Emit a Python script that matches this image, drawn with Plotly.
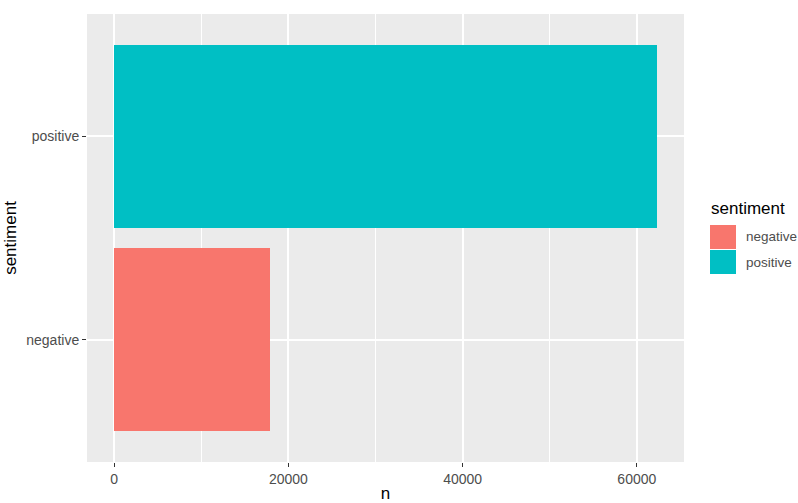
import plotly.graph_objects as go

categories = ["negative", "positive"]
counts = [17900, 62300]
colors = ["#F8766D", "#00BFC4"]
x_ticks = [0, 20000, 40000, 60000]

W, H = 798, 503
L, R, T, B = 87, 114, 14, 41
pw, ph = W - L - R, H - T - B

def px(x):
    return (x - L) / pw

def py(y):
    return (H - B - y) / ph

fig = go.Figure()
for cat, val, col in zip(categories, counts, colors):
    fig.add_trace(go.Bar(
        y=[cat], x=[val], orientation="h", marker=dict(color=col, line=dict(width=0)),
        width=0.9, name=cat, showlegend=False,
    ))

xmax = max(counts)
pad = 0.05 * xmax

fig.update_layout(
    width=W, height=H,
    margin=dict(l=L, r=R, t=T, b=B, pad=0),
    paper_bgcolor="white", plot_bgcolor="#EBEBEB",
    font=dict(family="Liberation Sans, Arial, sans-serif", color="#4D4D4D"),
    bargap=0,
    xaxis=dict(
        range=[-pad, xmax + pad], tickvals=x_ticks, ticktext=[str(v) for v in x_ticks],
        showgrid=True, gridcolor="white", gridwidth=1.5, zeroline=False,
        minor=dict(dtick=10000, tick0=0, showgrid=True, gridcolor="white", gridwidth=0.7, ticks=""),
        ticks="outside", ticklen=4, tickwidth=1.2, tickcolor="#333333",
        tickfont=dict(size=14, color="#4D4D4D"),
        title=dict(text="n", font=dict(size=17, color="black"), standoff=2),
        showline=False, automargin=False,
    ),
    yaxis=dict(
        categoryorder="array", categoryarray=categories, range=[-0.6, 1.6],
        showgrid=True, gridcolor="white", gridwidth=1.5, zeroline=False,
        ticks="outside", ticklen=4, tickwidth=1.2, tickcolor="#333333",
        tickfont=dict(size=14, color="#4D4D4D"),
        title=dict(text="sentiment", font=dict(size=17, color="black"), standoff=5),
        showline=False, automargin=False,
    ),
)

# legend (ggplot-style)
fig.add_annotation(xref="paper", yref="paper", x=px(709), y=py(208), text="sentiment",
                   showarrow=False, xanchor="left", yanchor="middle",
                   font=dict(size=17, color="black"))
key_tops = [225, 250]
for cat, col, top in zip(categories, colors, key_tops):
    fig.add_shape(type="rect", xref="paper", yref="paper",
                  x0=px(710), x1=px(736), y0=py(top), y1=py(top + 24),
                  fillcolor=col, line=dict(width=0), layer="above")
    fig.add_annotation(xref="paper", yref="paper", x=px(744), y=py(top + 12), text=cat,
                       showarrow=False, xanchor="left", yanchor="middle",
                       font=dict(size=13.5, color="#4D4D4D"))

fig.write_html("out.html", config={"displayModeBar": False},
               post_script="document.body.style.margin='0';")
